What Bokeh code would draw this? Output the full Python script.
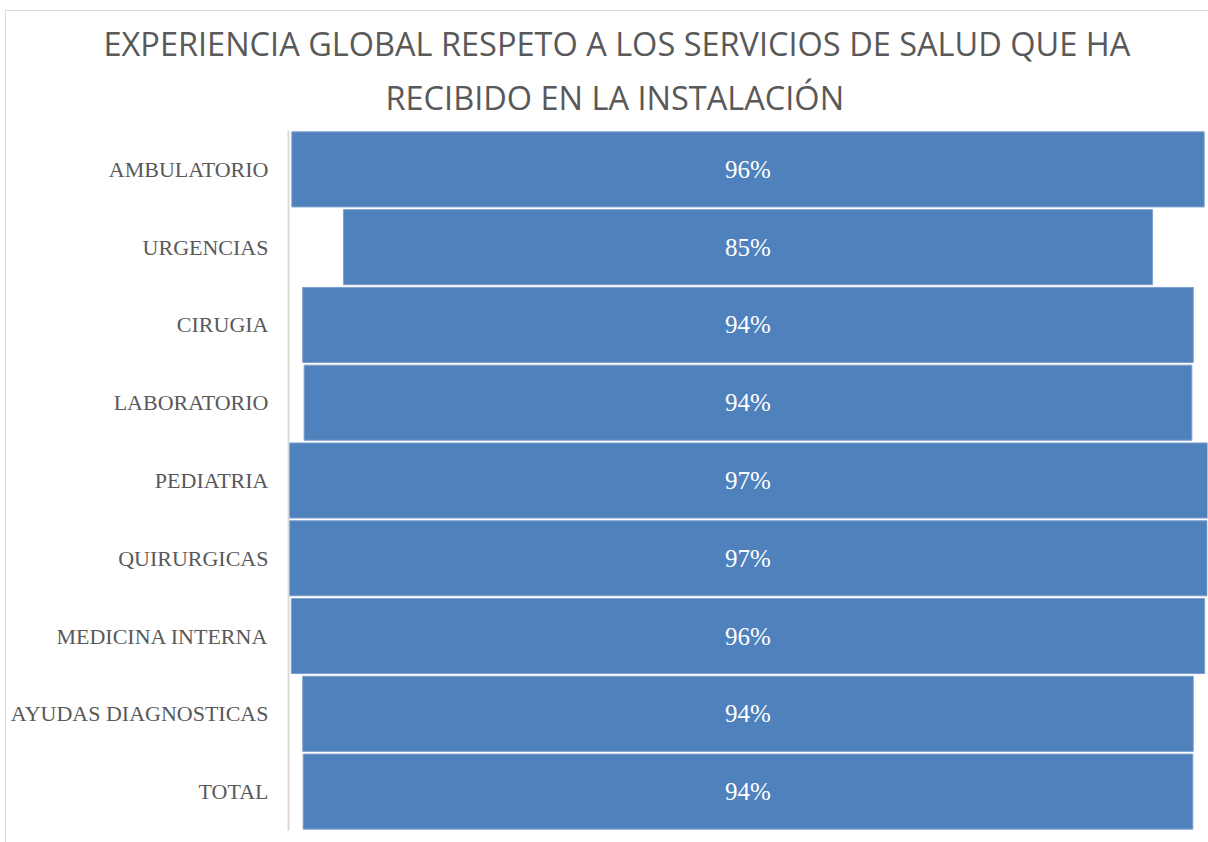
from bokeh.plotting import figure
from bokeh.models import Title, ColumnDataSource, InlineStyleSheet
from bokeh.core.properties import value
from bokeh.embed import file_html
from bokeh.resources import INLINE

categories = ["AMBULATORIO", "URGENCIAS", "CIRUGIA", "LABORATORIO", "PEDIATRIA",
              "QUIRURGICAS", "MEDICINA INTERNA", "AYUDAS DIAGNOSTICAS", "TOTAL"]
values = [96.3, 85.4, 94.0, 93.7, 97.0, 96.9, 96.4, 94.0, 93.9]
value_labels = ["96%", "85%", "94%", "94%", "97%", "97%", "96%", "94%", "94%"]
title_lines = ["EXPERIENCIA GLOBAL RESPETO A LOS SERVICIOS DE SALUD QUE HA",
               "RECIBIDO EN LA INSTALACIÓN"]

src = ColumnDataSource(dict(
    cat=categories,
    left=[-v / 2 for v in values],
    right=[v / 2 for v in values],
    zero=[0] * len(values),
    lab=value_labels,
))

border_css = InlineStyleSheet(css="""
:host { position: relative; }
:host::after { content: ''; position: absolute; left: 5px; top: 10px;
  width: 1300px; height: 1000px; border: 1px solid #D9D9D9;
  pointer-events: none; }
""")

p = figure(width=1208, height=842, y_range=list(reversed(categories)),
           x_range=(-48.5, 48.5), output_backend="svg", toolbar_location=None,
           min_border_left=288, min_border_right=1, min_border_top=130,
           min_border_bottom=12, stylesheets=[border_css])
p.outline_line_color = None
p.xaxis.visible = False
p.xgrid.visible = False
p.ygrid.visible = False

p.title.text = title_lines[0]
t2 = Title(text=title_lines[1])
p.add_layout(t2, "above")
for t, off, so in [(p.title, -185, -6), (t2, 97, 21)]:
    t.align = "left"
    t.offset = off
    t.standoff = so
    t.text_font = "Open Sans"
    t.text_font_size = "32.5px"
    t.text_font_style = "normal"
    t.text_color = "#595959"

p.hbar(y="cat", left="left", right="right", height=0.965, source=src,
       fill_color="#4F81BD", line_color="#7DA0CF", line_width=1)
p.text(x="zero", y="cat", text="lab", source=src, text_color="white",
       text_font=value("Liberation Serif"), text_font_size="25px",
       text_align="center", text_baseline="middle")

ax = p.yaxis[0]
ax.axis_line_color = "#D9D9D9"
ax.axis_line_width = 2
ax.major_tick_line_color = None
ax.minor_tick_line_color = None
ax.major_label_text_font = "Liberation Serif"
ax.major_label_text_font_size = "22px"
ax.major_label_text_color = "#595959"
ax.major_label_standoff = 14

open("out.html", "w").write(file_html(p, INLINE))
